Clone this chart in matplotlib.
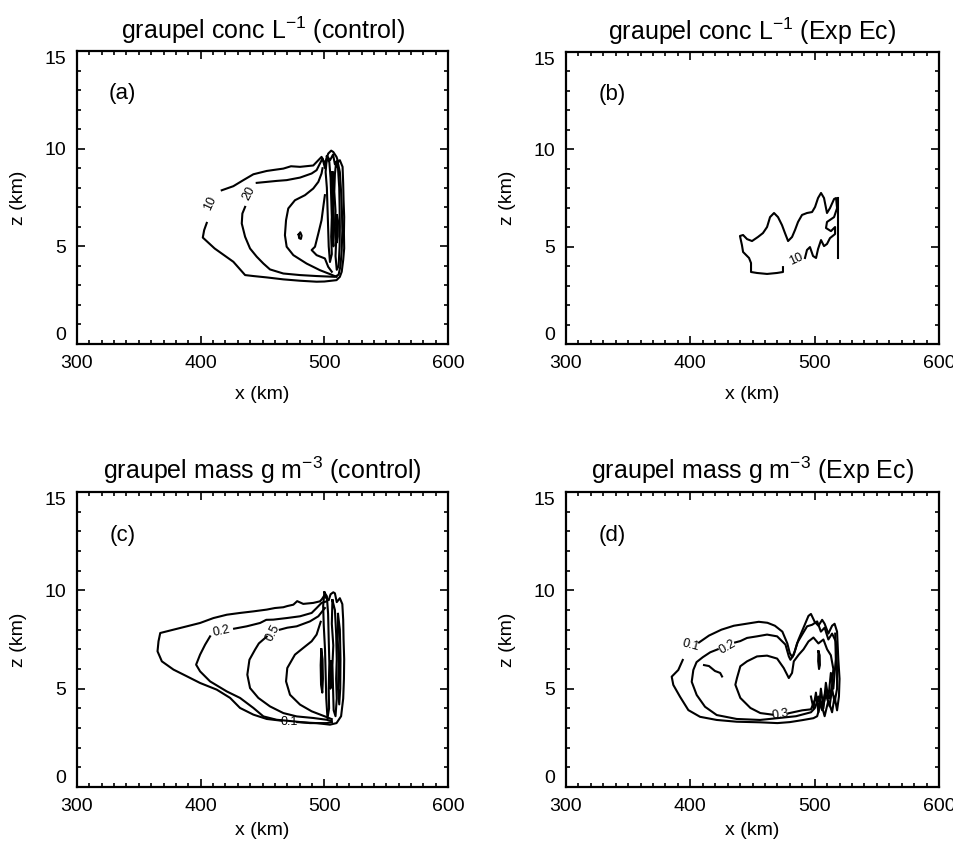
import matplotlib
matplotlib.use("Agg")
import matplotlib.pyplot as plt
from matplotlib.ticker import MultipleLocator

plt.rcParams['font.family'] = ['Liberation Sans', 'DejaVu Sans']
plt.rcParams['mathtext.fontset'] = 'custom'
plt.rcParams['mathtext.rm'] = 'Liberation Sans'
plt.rcParams['mathtext.default'] = 'regular'

# contour lines, (x km, z km)
# (a) graupel conc, control
a_c10 = [(417.0, 7.87), (426.4, 8.08), (434.5, 8.39), (442.6, 8.69), (453.4, 8.86), (460, 8.92),
         (466.8, 8.98), (473, 9.1), (480.3, 9.07), (491.0, 9.14), (495.1, 9.41), (497.7, 9.58),
         (500.4, 9.24), (503.1, 9.75), (505.5, 9.9), (507.2, 9.83), (509.8, 9.58), (511.2, 9.32),
         (512.5, 9.41), (514.7, 9.07), (515.2, 8.2), (515.5, 7.36), (516.0, 6.5), (515.8, 5.66),
         (516.0, 4.9), (515.2, 4.30), (514.0, 3.7), (512.5, 3.44), (509.8, 3.27), (500, 3.2),
         (493.7, 3.19), (480.3, 3.24), (466.8, 3.31), (453.4, 3.41), (442.6, 3.48), (435.9, 3.53),
         (426.4, 4.21), (411.3, 4.89), (401.7, 5.45), (402.8, 5.83), (404.9, 6.20)]
a_c20 = [(445.3, 8.25), (453.4, 8.30), (461.4, 8.35), (469.5, 8.39), (480.3, 8.52), (489.7, 8.73),
         (493.7, 8.90), (496.4, 9.24), (498.5, 9.5), (500.5, 9.0), (502.5, 9.6), (504.5, 9.4),
         (507, 9.7), (508.5, 9.2), (510.5, 9.4), (512.5, 8.8), (513.5, 7.8), (514.2, 6.8),
         (514.5, 5.8), (514.0, 4.8), (513.0, 4.0), (511.5, 3.55), (508.5, 3.44), (493.7, 3.48),
         (480.3, 3.53), (466.8, 3.61), (456.0, 3.82), (450.7, 4.12), (445.3, 4.47), (439.9, 4.89),
         (435.9, 5.49), (433.2, 6.17), (433.7, 6.68), (435.9, 7.02)]
a_c50 = [(498.5, 9.0), (497.7, 8.73), (495.1, 8.30), (491.0, 7.96), (484.3, 7.62), (476.2, 7.36),
         (470.8, 6.94), (469.0, 6.34), (468.1, 5.57), (469.5, 4.98), (474.9, 4.55), (485.6, 4.12),
         (496.4, 3.78), (504.5, 3.58), (509.8, 3.44)]
a_c100 = [(500.4, 7.62), (499.1, 7.02), (497.7, 6.34), (495.1, 5.66), (492.4, 4.98), (489.7, 4.81),
          (493.7, 4.55), (500.4, 4.38), (503.1, 3.95), (506, 3.7)]
a_dot = [(479.2, 5.6), (480.5, 5.72), (481.6, 5.55), (481.0, 5.38), (479.6, 5.42), (479.2, 5.6)]
a_loop1 = [(502, 9.6), (504, 9.3), (505, 8.5), (505.5, 7.5), (506, 6.5), (505.5, 5.5), (506, 4.6),
           (504.5, 4.2), (503.5, 5.0), (503, 6.0), (502.5, 7.0), (502, 8.0), (501, 8.8), (502, 9.6)]
a_loop2 = [(509.5, 9.3), (511, 9.0), (512, 8.0), (512.3, 7.0), (512.5, 6.0), (512.3, 5.0), (511.5, 4.0),
           (510, 3.8), (509, 4.5), (509.5, 5.3), (508.5, 6.0), (509, 6.8), (508, 7.8), (508.5, 8.7),
           (509.5, 9.3)]
a_loop3 = [(510.2, 6.6), (511, 6.3), (510.8, 5.5), (510, 5.2), (509.8, 5.9), (510.2, 6.6)]
a_loop4 = [(506.5, 8.8), (507.5, 8.2), (507.2, 7.0), (507.8, 6.0), (507.3, 5.0), (506.5, 5.5),
           (506.2, 6.5), (506.8, 7.5), (506, 8.3), (506.5, 8.8)]
a_lines = [a_c10, a_c20, a_c50, a_c100, a_dot, a_loop1, a_loop2, a_loop3, a_loop4]
a_labels = [('10', 407.5, 7.2, 65), ('20', 438.8, 7.7, 62)]

# (b) graupel conc, Exp Ec
b_c10 = [(492.2, 4.42), (493.8, 4.83), (496.2, 4.98), (498.7, 4.52), (501.1, 4.42), (502.7, 4.88),
         (505.1, 5.34), (507.5, 5.03), (509.9, 5.14), (512.3, 5.44), (516.4, 5.65), (516.4, 6.01),
         (513.1, 5.80), (509.1, 5.96), (509.9, 6.27), (515.6, 6.52), (518.0, 6.98), (517.2, 7.50),
         (515.6, 7.45), (512.3, 6.98), (509.9, 6.73), (507.5, 7.50), (505.1, 7.76), (502.7, 7.50),
         (500.3, 7.04), (497.9, 6.78), (493.8, 6.73), (489.8, 6.63), (486.6, 6.27), (484.2, 5.86),
         (481.8, 5.50), (478.6, 5.29), (476.1, 5.70), (473.7, 6.11), (470.5, 6.52), (467.3, 6.73),
         (464.1, 6.52), (461.7, 6.01), (458.4, 5.70), (454.4, 5.50), (449.6, 5.29), (445.6, 5.39),
         (442.4, 5.60), (439.9, 5.55), (441.5, 5.08), (442.4, 4.73), (447.2, 4.42), (448.8, 4.16),
         (448.8, 3.70), (453.6, 3.65), (461.7, 3.60), (469.7, 3.65), (474.5, 3.70), (474.5, 3.95)]
b_edge = [(518.6, 7.5), (518.6, 4.4)]
b_lines = [b_c10, b_edge]
b_labels = [('10', 485.0, 4.35, 25)]

# (c) graupel mass, control
c_c01 = [(478, 3.3), (493.7, 3.25), (504.5, 3.17), (509.8, 3.25), (513.5, 3.6), (515.2, 4.5),
         (515.8, 5.5), (516, 6.5), (515.5, 7.5), (515.2, 8.5), (514.5, 9.3), (512.5, 9.6), (510, 9.4),
         (508.5, 9.85), (507.2, 9.9), (505, 9.8), (503.5, 9.5), (501.5, 9.6), (500.4, 9.78),
         (498, 9.55), (496.4, 9.44), (491.0, 9.36), (482.9, 9.31), (478, 9.45), (474.9, 9.27),
         (470, 9.2), (466.8, 9.14), (460, 9.1), (453.4, 9.02), (442.6, 8.93), (431.8, 8.85),
         (421.1, 8.76), (410.3, 8.59), (399.5, 8.34), (388.8, 8.17), (378.0, 8.0), (367.3, 7.83),
         (365.9, 7.41), (365.1, 6.90), (368.6, 6.39), (378.0, 5.97), (388.8, 5.63), (399.5, 5.29),
         (413.0, 4.95), (423.8, 4.53), (431.8, 4.02), (442.6, 3.68), (453.4, 3.46), (465.5, 3.37)]
c_c02_top = [(427, 8.05), (437.2, 8.17), (448.0, 8.34), (453, 8.5), (458.7, 8.51), (469.5, 8.59),
             (480.3, 8.68), (489.7, 8.85), (493.7, 9.10), (497.7, 9.36), (501.8, 9.44)]
c_c02_low = [(407.6, 7.66), (403.6, 7.24), (399.5, 6.73), (396.3, 6.22), (399.5, 5.88), (407.6, 5.37),
             (421.1, 4.86), (431.8, 4.53), (442.6, 4.02), (450.7, 3.59), (461.4, 3.42), (474.9, 3.34),
             (488.3, 3.25), (501.8, 3.25), (506, 3.3)]
c_c05_top = [(464, 8.0), (470, 8.1), (477.6, 8.17), (488.3, 8.42), (495.1, 8.68), (500.4, 9.1)]
c_c05_low = [(453.4, 7.65), (447, 7.3), (443.9, 6.98), (439.4, 6.47), (437.7, 5.71), (439.9, 5.03),
             (446.6, 4.53), (456.0, 4.10), (466.8, 3.76), (477.6, 3.59), (491.0, 3.51), (501.8, 3.42),
             (506, 3.35)]
c_c1 = [(497, 8.4), (493.7, 7.75), (489.7, 7.41), (482.9, 7.07), (476.2, 6.73), (470.0, 6.05),
        (469.0, 5.37), (472.2, 4.69), (480.3, 4.19), (489.7, 3.85), (500.4, 3.59), (506, 3.45)]
c_loop1 = [(500, 9.9), (502, 9.7), (503, 8.8), (503.5, 7.5), (504, 6.3), (503.5, 5.0), (503.8, 4.0),
           (502.5, 3.5), (501.5, 4.5), (501, 5.8), (500.5, 7.0), (499.5, 8.2), (499, 9.2), (500, 9.9)]
c_loop2 = [(497.5, 7.0), (498.5, 6.5), (498.8, 5.5), (498.3, 4.8), (497.3, 5.2), (497, 6.2), (497.5, 7.0)]
c_loop3 = [(506.5, 9.5), (508.5, 9.0), (509.5, 7.8), (510, 6.5), (509.5, 5.5), (510, 4.5), (509, 3.6),
           (507.5, 3.9), (507, 5.0), (506.5, 6.2), (507.2, 7.2), (506, 8.3), (506.5, 9.5)]
c_loop4 = [(511, 8.8), (512.5, 8.0), (513, 6.5), (512.8, 5.0), (512, 4.2), (511, 5.0), (511.5, 6.3),
           (510.8, 7.5), (511, 8.8)]
c_loop5 = [(505, 6.4), (505.8, 6.0), (505.6, 5.2), (504.8, 5.0), (504.6, 5.7), (505, 6.4)]
c_lines = [c_c01, c_c02_top, c_c02_low, c_c05_top, c_c05_low, c_c1,
           c_loop1, c_loop2, c_loop3, c_loop4, c_loop5]
c_labels = [('0.2', 417.0, 7.9, 12), ('0.5', 458.5, 7.85, 62), ('0.1', 471.5, 3.3, 0)]

# (d) graupel mass, Exp Ec
d_c01 = [(407, 7.35), (415, 7.7), (425, 8.0), (435, 8.2), (445, 8.3), (455, 8.4), (462, 8.35),
         (468, 8.2), (474, 7.9), (478, 7.3), (480, 6.8), (482, 6.6), (484, 6.9), (487, 7.5),
         (491, 8.1), (495, 8.7), (497, 8.8), (500, 8.4), (503, 8.2), (506, 8.5), (508, 8.3),
         (511, 7.8), (514, 8.2), (516, 8.3), (518, 7.9), (519, 6.5), (520, 5.5), (519.5, 4.6),
         (518, 3.9), (516, 4.6), (514, 3.8), (511, 4.4), (508, 3.6), (505, 4.3), (502, 3.6),
         (499, 3.5), (490, 3.4), (480, 3.3), (470, 3.25), (456, 3.29), (437.3, 3.32), (421.2, 3.41),
         (407.8, 3.57), (398.4, 3.91), (391.7, 4.59), (386.3, 5.19), (385.0, 5.61), (390.3, 5.95),
         (393.9, 6.46)]
d_c02 = [(436, 7.35), (440.2, 7.42), (445.6, 7.58), (453.6, 7.66), (461.7, 7.75), (469.8, 7.66),
         (476.5, 7.24), (479.2, 6.64), (480.5, 6.47), (483.2, 6.73), (485.9, 7.32), (489.9, 7.75),
         (493.9, 8.17), (498, 8.25), (502, 8.42), (505, 7.9), (508, 8.1), (511, 7.5), (514, 7.8),
         (517, 7.4), (518, 6.0), (518, 5.0), (516, 4.3), (514, 5.0), (512, 4.1), (509, 4.7),
         (506, 3.9), (503, 4.5), (500, 4.0), (497, 3.8), (485, 3.6), (470, 3.5), (456, 3.41),
         (437.3, 3.46), (421.2, 3.66), (411.8, 4.08), (405.1, 4.68), (401.1, 5.35), (402.4, 5.95),
         (405, 6.35), (410, 6.6), (416, 6.85), (422, 7.0)]
d_hook = [(411, 6.2), (415, 6.15), (419.8, 5.9), (424, 5.8), (425.5, 5.62)]
d_c03 = [(466, 3.68), (456.3, 3.76), (448.3, 4.02), (440.2, 4.53), (436.2, 5.2), (437.5, 5.54),
         (440.2, 6.14), (445.6, 6.39), (453.6, 6.64), (461.7, 6.68), (469.8, 6.53), (475.1, 6.05),
         (479.2, 5.54), (481.8, 5.8), (483.2, 6.39), (487.2, 6.73), (491, 7.0), (495, 7.4),
         (499, 7.6), (503, 7.3), (507, 7.5), (510, 7.0), (513, 6.7), (515, 6.0), (514, 5.2),
         (512, 4.5), (509, 4.9), (506, 4.2), (503, 4.6), (500, 4.4), (497, 3.95), (490, 3.9),
         (479, 3.75)]
d_loop = [(503, 6.9), (504, 6.7), (504.2, 6.2), (503.5, 6.0), (502.8, 6.4), (503, 6.9)]
d_zig = [(497, 4.6), (499, 4.0), (501, 4.8), (503, 3.8), (505, 5.0), (507, 4.0), (509, 5.3),
         (511, 4.5), (513, 5.8), (515, 5.0), (517, 6.5), (516.5, 7.8)]
d_lines = [d_c01, d_c02, d_hook, d_c03, d_loop, d_zig]
d_labels = [('0.1', 400.5, 7.2, -15), ('0.2', 429.5, 7.1, 30), ('0.3', 472.5, 3.7, 10)]

titles = [r'graupel conc L$^{-1}$ (control)', r'graupel conc L$^{-1}$ (Exp Ec)',
          r'graupel mass g m$^{-3}$ (control)', r'graupel mass g m$^{-3}$ (Exp Ec)']
tags = ['(a)', '(b)', '(c)', '(d)']
x_ticks = [300, 400, 500, 600]
z_ticks = [0, 5, 10, 15]

fig = plt.figure(figsize=(9.54, 8.43), dpi=100)
boxes = [[0.0807, 0.5919, 0.389, 0.3476], [0.5933, 0.5919, 0.391, 0.3464],
         [0.0807, 0.0664, 0.389, 0.350], [0.5933, 0.0664, 0.391, 0.350]]
panels = [(a_lines, a_labels), (b_lines, b_labels), (c_lines, c_labels), (d_lines, d_labels)]

for i, (box, (lines, labels), title, tag) in enumerate(zip(boxes, panels, titles, tags)):
    ax = fig.add_axes(box)
    for pts in lines:
        xs = [p[0] for p in pts]
        zs = [p[1] for p in pts]
        ax.plot(xs, zs, color='black', lw=1.5, solid_joinstyle='round')
    for txt, x, z, rot in labels:
        ax.text(x, z, txt, fontsize=9, rotation=rot, ha='center', va='center',
                rotation_mode='anchor')
    ax.text(337, 12.8, tag, fontsize=16, ha='center', va='center')
    ax.set_xlim(300, 600)
    ax.set_ylim(0, 15)
    ax.set_xticks(x_ticks)
    ax.set_yticks(z_ticks)
    ax.xaxis.set_minor_locator(MultipleLocator(10))
    ax.yaxis.set_minor_locator(MultipleLocator(1))
    ax.tick_params(which='both', direction='in', top=True, right=True, labelsize=14, width=1.2)
    ax.tick_params(which='major', length=6, pad=8)
    ax.tick_params(which='minor', length=3)
    for s in ax.spines.values():
        s.set_linewidth(1.6)
    yt = ax.yaxis.get_major_ticks()
    yt[0].label1.set_verticalalignment('bottom')
    yt[-1].label1.set_verticalalignment('top')
    ax.set_title(title, fontsize=18, pad=9)
    # bottom row: keep the x label inside the figure
    ax.set_xlabel('x (km)', fontsize=14, labelpad=10 if i < 2 else 5)
    ax.set_ylabel('z (km)', fontsize=14, labelpad=12)

fig.savefig('out.png', dpi=100)
